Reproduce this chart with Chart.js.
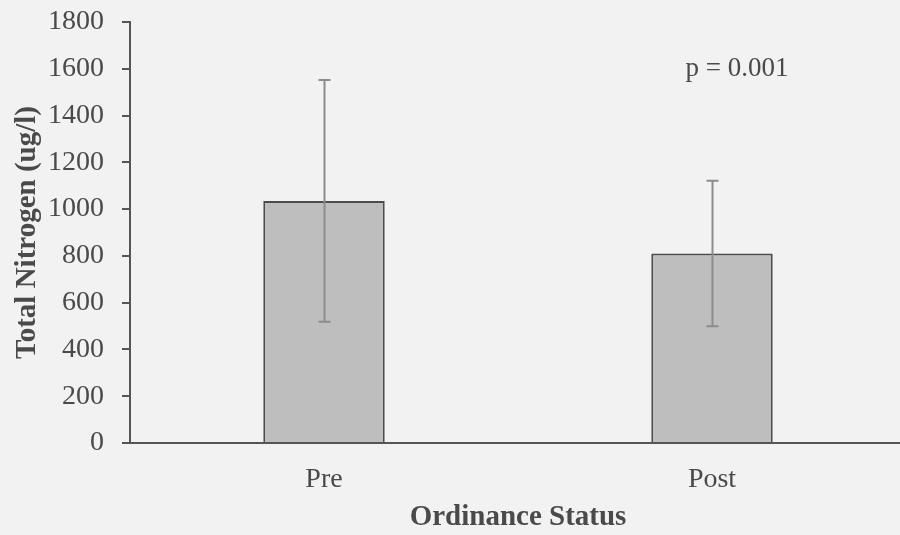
<!DOCTYPE html>
<html>
<head>
<meta charset="utf-8">
<script src="https://cdn.jsdelivr.net/npm/chart.js@4"></script>
<style>
  html, body { margin: 0; padding: 0; background: #f2f2f3; overflow: hidden; }
  #wrap { width: 906px; height: 535px; }
</style>
</head>
<body>
<div id="wrap"><canvas id="chart" width="906" height="535"></canvas></div>
<script>
// Total nitrogen before and after the ordinance (mean ± SD)
const categories = ['Pre', 'Post'];
const meanValues = [1035, 810];
const sdValues = [517, 311];
const yTicks = [0, 200, 400, 600, 800, 1000, 1200, 1400, 1600, 1800];
const pLabel = 'p = 0.001';

const textColor = '#4a4a4a';
const axisColor = '#555555';
const serif = '"Liberation Serif", "Times New Roman", serif';

// Symmetric error bars drawn over each bar
const errorBars = {
  id: 'errorBars',
  afterDatasetsDraw(chart) {
    const ctx = chart.ctx;
    const y = chart.scales.y;
    const meta = chart.getDatasetMeta(0);
    ctx.save();
    ctx.strokeStyle = '#8c8c8c';
    ctx.lineWidth = 2;
    meta.data.forEach((bar, i) => {
      const x = Math.round(bar.x) + 0.5;
      const top = y.getPixelForValue(meanValues[i] + sdValues[i]);
      const bot = y.getPixelForValue(meanValues[i] - sdValues[i]);
      ctx.beginPath();
      ctx.moveTo(x, top); ctx.lineTo(x, bot);
      ctx.moveTo(x - 6, top); ctx.lineTo(x + 6, top);
      ctx.moveTo(x - 6, bot); ctx.lineTo(x + 6, bot);
      ctx.stroke();
    });
    ctx.restore();
  }
};

// Significance note above the Post bar
const pNote = {
  id: 'pNote',
  afterDraw(chart) {
    const ctx = chart.ctx;
    const x = chart.scales.x.getPixelForValue(1) + 25;
    const y = chart.scales.y.getPixelForValue(1600);
    ctx.save();
    ctx.fillStyle = textColor;
    ctx.font = '27px ' + serif;
    ctx.textAlign = 'center';
    ctx.textBaseline = 'middle';
    ctx.fillText(pLabel, x, y);
    ctx.restore();
  }
};

new Chart(document.getElementById('chart'), {
  type: 'bar',
  data: {
    labels: categories,
    datasets: [{
      data: meanValues,
      backgroundColor: '#bebebe',
      borderColor: '#4c4c4c',
      borderWidth: 2,
      borderSkipped: 'bottom',
      categoryPercentage: 1,
      barPercentage: 0.313
    }]
  },
  options: {
    responsive: false,
    animation: false,
    layout: { padding: { top: 22, left: 0, right: 0, bottom: 0 } },
    plugins: { legend: { display: false }, tooltip: { enabled: false } },
    scales: {
      x: {
        grid: { display: false },
        border: { display: true, color: axisColor, width: 2 },
        ticks: { color: textColor, font: { family: serif, size: 28 }, padding: 12, maxRotation: 0 },
        title: {
          display: true, text: 'Ordinance Status', color: textColor,
          font: { family: serif, size: 29, weight: 'bold' },
          padding: { top: 0, bottom: 0 }
        },
        afterFit(scale) { scale.height = 92; }
      },
      y: {
        min: 0, max: 1800,
        afterBuildTicks(scale) { scale.ticks = yTicks.map(v => ({ value: v })); },
        grid: { drawOnChartArea: false, drawTicks: true, tickLength: 8, color: axisColor, lineWidth: 2 },
        border: { display: true, color: axisColor, width: 2 },
        ticks: {
          color: textColor, font: { family: serif, size: 28 }, padding: 18,
          callback: v => String(v)
        },
        title: {
          display: true, text: 'Total Nitrogen (ug/l)', color: textColor,
          font: { family: serif, size: 29, weight: 'bold' },
          padding: { top: 10, bottom: 0 }
        },
        afterFit(scale) {
          scale.width = 130;
          // the plot top is set by the layout padding alone
          scale.paddingTop = 0;
          scale.paddingBottom = 0;
        }
      }
    }
  },
  plugins: [errorBars, pNote]
});
</script>
</body>
</html>
